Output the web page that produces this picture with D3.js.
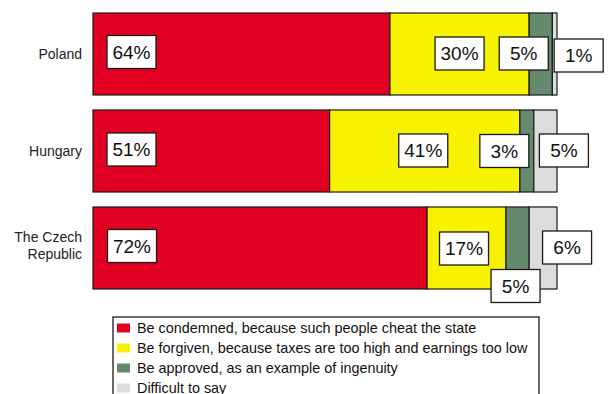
<!DOCTYPE html>
<html>
<head>
<meta charset="utf-8">
<script src="https://cdn.jsdelivr.net/npm/d3@7/dist/d3.min.js"></script>
<style>
  html, body { margin: 0; padding: 0; background: #fff; }
  svg { display: block; font-family: "Liberation Sans", Arial, sans-serif; }
</style>
</head>
<body>
<svg id="chart" width="611" height="394"></svg>
<script>
// Survey answers: how should a person who evades taxes be treated?
const countries = ["Poland", "Hungary", "The Czech Republic"];
const countryLines = [["Poland"], ["Hungary"], ["The Czech", "Republic"]];
const seriesNames = [
  "Be condemned, because such people cheat the state",
  "Be forgiven, because taxes are too high and earnings too low",
  "Be approved, as an example of ingenuity",
  "Difficult to say"
];
const condemned = [64, 51, 72];
const forgiven  = [30, 41, 17];
const approved  = [5, 3, 5];
const difficult = [1, 5, 6];

const colors = ["#e10022", "#f7f200", "#658a6e", "#dcdcdc"];

// Where each value box sits: horizontal shift from the segment centre
// (the first series is pinned to the bar start), vertical shift from the bar centre.
const labelShift = [
  [[38.5, -2],  [0, -0.5],   [-17, -0.5],  [24, 1.5]],
  [[38.5, -1.5],[-1.5, -0.5],[-22.5, 0],   [18.5, -0.5]],
  [[39, -2],    [-2.5, 0.5], [-2, 38],     [24, -0.5]]
];

const svg = d3.select("#chart");
const x = d3.scaleLinear().domain([0, 100]).range([93, 557]);
const y = d3.scaleBand().domain(countries).range([13, 289]).paddingInner(0.1546).paddingOuter(0);

const rows = countries.map((c, i) => ({
  country: c,
  values: [condemned[i], forgiven[i], approved[i], difficult[i]]
}));

const stack = d3.stack().keys([0, 1, 2, 3]).value((d, k) => d.values[k]);
const layers = stack(rows);

// Bar segments
const gBars = svg.append("g");
layers.forEach((layer, k) => {
  gBars.selectAll(null)
    .data(layer)
    .join("rect")
    .attr("x", d => x(d[0]))
    .attr("y", d => y(d.data.country))
    .attr("width", d => x(d[1]) - x(d[0]))
    .attr("height", y.bandwidth())
    .attr("fill", colors[k])
    .attr("stroke", "#1a1a1a")
    .attr("stroke-width", 1.2);
});

// Value boxes
const boxW = 49, boxH = 33;
const gLabels = svg.append("g");
layers.forEach((layer, k) => {
  layer.forEach((d, i) => {
    const [dx, dy] = labelShift[i][k];
    const cx = k === 0 ? x(d[0]) + dx : (x(d[0]) + x(d[1])) / 2 + dx;
    const cy = y(d.data.country) + y.bandwidth() / 2 + dy;
    const g = gLabels.append("g").attr("transform", `translate(${cx},${cy})`);
    g.append("rect")
      .attr("x", -boxW / 2).attr("y", -boxH / 2)
      .attr("width", boxW).attr("height", boxH)
      .attr("fill", "#fff").attr("stroke", "#1a1a1a").attr("stroke-width", 1.3);
    g.append("text")
      .attr("text-anchor", "middle")
      .attr("dy", "0.36em")
      .attr("font-size", 19)
      .attr("fill", "#111")
      .text(d.data.values[k] + "%");
  });
});

// Category labels
const gCats = svg.append("g");
countries.forEach((c, i) => {
  const lines = countryLines[i];
  const cy = y(c) + y.bandwidth() / 2;
  const lh = 17;
  lines.forEach((t, j) => {
    gCats.append("text")
      .attr("x", 82)
      .attr("y", cy + (j - (lines.length - 1) / 2) * lh - (lines.length > 1 ? 3 : 0))
      .attr("dy", "0.36em")
      .attr("text-anchor", "end")
      .attr("font-size", 14)
      .attr("fill", "#222")
      .text(t);
  });
});

// Legend (its lower edge runs past the bottom of the canvas)
const legend = svg.append("g");
legend.append("rect")
  .attr("x", 113).attr("y", 317)
  .attr("width", 426).attr("height", 90)
  .attr("fill", "#fff").attr("stroke", "#1a1a1a").attr("stroke-width", 1.3);
seriesNames.forEach((name, k) => {
  const cy = 328 + k * 20;
  legend.append("rect")
    .attr("x", 117).attr("y", cy - 4.5)
    .attr("width", 13).attr("height", 9)
    .attr("fill", colors[k]);
  legend.append("text")
    .attr("x", 137).attr("y", cy)
    .attr("dy", "0.36em")
    .attr("font-size", 14.4)
    .attr("fill", "#111")
    .text(name);
});
</script>
</body>
</html>
